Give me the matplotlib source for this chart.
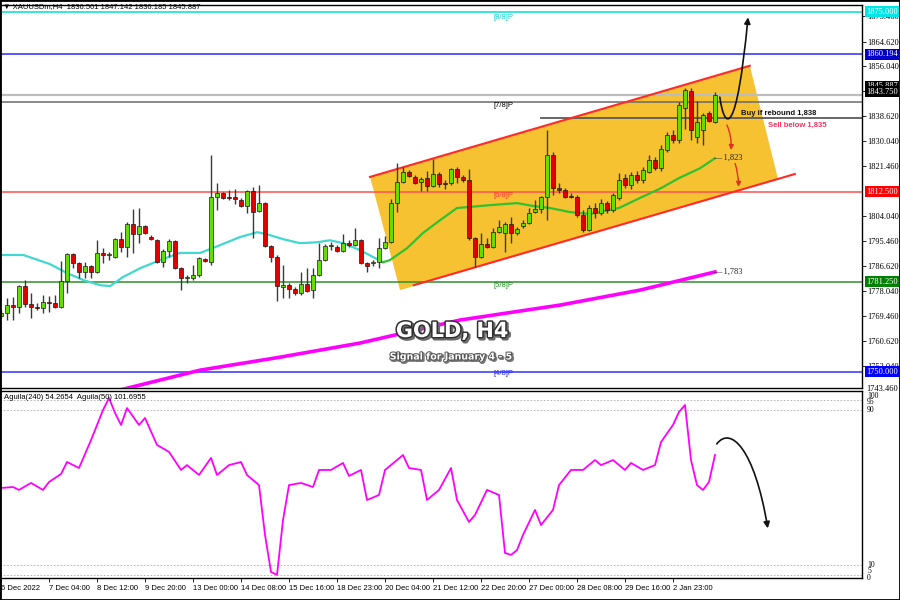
import matplotlib
matplotlib.use('Agg')
import matplotlib.pyplot as plt
import numpy as np
from matplotlib.path import Path
from matplotlib.patches import FancyArrowPatch, Polygon, Rectangle
import matplotlib.patheffects as pe
import matplotlib.transforms as mtransforms

plt.rcParams['font.family'] = ['Liberation Sans', 'DejaVu Sans']

# ---------------- data ----------------
opens = [1769.2, 1770.3, 1773.1, 1772.4, 1779.7, 1773.4, 1772.4, 1772.0, 1774.1, 1773.8,
         1772.4, 1781.4, 1790.8, 1787.7, 1784.6, 1786.6, 1784.6, 1791.2, 1790.5, 1789.8,
         1796.0, 1793.2, 1801.2, 1797.7, 1800.5, 1796.7, 1795.6, 1788.0, 1791.8, 1795.3,
         1785.9, 1782.5, 1782.5, 1783.5, 1789.1, 1788.0, 1810.6, 1812.0, 1810.6, 1810.6,
         1809.6, 1807.5, 1812.7, 1805.8, 1808.5, 1793.6, 1789.8, 1779.3, 1780.0, 1778.6,
         1777.2, 1780.4, 1778.3, 1783.5, 1788.7, 1793.6, 1793.2, 1791.8, 1794.6, 1793.9,
         1795.6, 1787.7, 1787.7, 1788.0, 1792.9, 1794.9, 1808.5, 1815.8, 1819.3, 1817.6,
         1815.8, 1817.2, 1814.4, 1818.6, 1815.5, 1815.5, 1820.3, 1817.6, 1816.5, 1796.3,
         1789.8, 1794.2, 1793.2, 1798.4, 1798.1, 1801.2, 1798.1, 1800.5, 1801.6, 1805.4,
         1806.4, 1810.6, 1825.2, 1813.7, 1813.0, 1811.0, 1810.6, 1804.4, 1799.1, 1806.8,
         1805.1, 1808.5, 1806.1, 1810.3, 1817.2, 1814.8, 1818.2, 1816.5, 1819.3, 1823.5,
         1820.6, 1826.9, 1832.1, 1830.4, 1841.5, 1847.5, 1831.4, 1833.9, 1839.8, 1836.5]
highs = [1771.4, 1775.5, 1775.9, 1780.0, 1781.8, 1777.2, 1773.8, 1776.6, 1776.2, 1776.6,
         1788.4, 1791.2, 1791.2, 1788.0, 1788.0, 1787.0, 1795.6, 1792.9, 1791.5, 1796.3,
         1798.4, 1801.9, 1806.4, 1806.8, 1800.9, 1797.3, 1796.0, 1792.5, 1796.0, 1795.6,
         1786.3, 1783.5, 1787.0, 1789.8, 1789.4, 1825.2, 1815.5, 1812.4, 1813.0, 1813.4,
         1810.3, 1813.0, 1814.1, 1814.8, 1808.9, 1793.9, 1790.5, 1787.0, 1780.7, 1779.3,
         1784.6, 1785.9, 1785.9, 1794.6, 1794.2, 1794.9, 1793.9, 1797.7, 1795.6, 1799.8,
         1796.0, 1788.0, 1788.7, 1796.3, 1797.0, 1809.9, 1822.4, 1821.0, 1820.0, 1818.2,
         1817.6, 1819.6, 1823.8, 1819.3, 1816.5, 1820.6, 1821.0, 1818.2, 1820.3, 1796.7,
         1798.1, 1796.3, 1799.8, 1802.6, 1801.9, 1803.7, 1800.2, 1802.6, 1806.8, 1809.6,
         1811.0, 1833.9, 1826.2, 1815.5, 1813.7, 1812.0, 1811.3, 1806.1, 1807.8, 1808.5,
         1809.9, 1809.2, 1812.0, 1818.9, 1818.6, 1819.3, 1819.6, 1821.0, 1825.2, 1824.5,
         1828.6, 1833.2, 1833.9, 1843.5, 1848.5, 1848.5, 1843.9, 1839.8, 1840.5, 1847.1]
lows = [1768.5, 1767.8, 1767.8, 1770.3, 1772.4, 1768.5, 1771.4, 1770.3, 1770.6, 1772.0,
        1772.0, 1777.2, 1785.9, 1782.5, 1782.5, 1782.5, 1784.2, 1787.7, 1788.7, 1789.4,
        1791.5, 1789.8, 1791.2, 1794.6, 1797.7, 1795.6, 1787.7, 1786.3, 1789.8, 1785.6,
        1778.3, 1780.7, 1781.8, 1782.8, 1788.0, 1787.0, 1806.1, 1809.9, 1809.6, 1808.2,
        1807.1, 1805.1, 1796.3, 1805.4, 1793.2, 1788.0, 1774.5, 1775.5, 1775.5, 1776.6,
        1776.6, 1777.6, 1775.5, 1783.2, 1788.4, 1792.2, 1791.5, 1791.5, 1793.2, 1793.6,
        1787.3, 1784.6, 1786.6, 1785.9, 1792.5, 1794.6, 1805.4, 1815.5, 1817.6, 1815.1,
        1812.7, 1812.7, 1814.1, 1814.1, 1813.4, 1814.8, 1815.5, 1815.8, 1795.6, 1786.3,
        1789.4, 1792.9, 1792.9, 1798.1, 1791.5, 1794.6, 1797.3, 1799.8, 1801.2, 1805.1,
        1805.1, 1802.6, 1811.3, 1812.0, 1810.3, 1810.3, 1803.7, 1798.4, 1798.8, 1803.3,
        1804.4, 1805.1, 1805.4, 1809.6, 1813.7, 1813.4, 1815.5, 1815.5, 1818.9, 1820.0,
        1819.6, 1826.2, 1829.3, 1829.3, 1834.2, 1830.4, 1829.3, 1828.6, 1836.7, 1836.2]
closes = [1770.3, 1773.1, 1772.4, 1779.7, 1773.4, 1772.4, 1772.0, 1774.1, 1773.8, 1772.4,
          1781.4, 1790.8, 1787.7, 1784.6, 1786.6, 1784.6, 1791.2, 1790.5, 1790.8, 1796.0,
          1793.2, 1801.2, 1797.7, 1800.5, 1798.1, 1796.0, 1788.0, 1791.8, 1795.3, 1785.9,
          1782.5, 1782.8, 1783.5, 1789.4, 1788.4, 1810.6, 1812.0, 1810.3, 1810.3, 1809.9,
          1807.5, 1812.7, 1805.4, 1808.5, 1793.6, 1789.8, 1779.7, 1780.0, 1778.6, 1777.2,
          1780.4, 1777.9, 1783.5, 1788.7, 1793.6, 1793.9, 1791.8, 1794.6, 1793.9, 1795.6,
          1787.7, 1786.6, 1788.0, 1792.9, 1794.9, 1808.5, 1815.8, 1819.3, 1817.9, 1815.5,
          1816.9, 1814.4, 1818.6, 1815.1, 1815.3, 1820.3, 1817.6, 1816.5, 1796.3, 1789.8,
          1794.2, 1793.2, 1798.4, 1800.2, 1801.2, 1798.1, 1799.5, 1801.6, 1805.1, 1806.4,
          1810.6, 1825.2, 1813.7, 1813.0, 1810.6, 1810.6, 1804.4, 1799.1, 1806.8, 1805.1,
          1808.5, 1806.1, 1811.3, 1816.5, 1814.8, 1818.2, 1816.5, 1820.0, 1823.5, 1820.6,
          1827.3, 1832.1, 1830.4, 1842.5, 1847.8, 1833.9, 1836.7, 1839.1, 1837.0, 1845.9]

ma_cyan_x = [0, 3.7, 8.2, 11, 13.7, 16.5, 18.2, 20.3, 23.2, 26.5, 29.8, 33.2, 36.5, 39.8,
             42.7, 44.3, 47, 49.8, 52.7, 54.8, 57, 59.8, 62, 63.7]
ma_cyan_y = [1790.5, 1790.5, 1787.3, 1784.2, 1781.8, 1780.0, 1779.7, 1782.8, 1785.9, 1788.7,
             1791.2, 1791.2, 1793.9, 1796.7, 1798.4, 1797.7, 1796.0, 1794.6, 1794.9, 1795.6,
             1794.6, 1792.2, 1789.8, 1788.0]
ma_green_x = [63.7, 64.8, 67.7, 70.3, 73.2, 76, 77.7, 81.5, 86, 88.7, 91.5, 94.8, 98.2,
              103, 106.5, 110, 113, 116.5, 119]
ma_green_y = [1788.0, 1788.7, 1792.9, 1798.1, 1802.6, 1806.8, 1807.1, 1807.8, 1808.5, 1807.5,
              1806.8, 1805.4, 1804.7, 1806.8, 1810.3, 1813.7, 1817.2, 1820.6, 1824.1]
ma200_x = [10, 19.8, 33.2, 46.5, 59.8, 76.5, 93.2, 106.5, 119]
ma200_y = [1740.0, 1743.6, 1750.5, 1755.0, 1759.9, 1767.9, 1773.1, 1778.3, 1784.6]

osc_x = [0, 2, 3, 5, 7, 8, 10, 11, 13, 15, 17, 18, 19, 20, 21, 23, 24, 26, 28, 30, 31, 33,
         35, 36, 38, 40, 41, 43, 44, 45, 46, 47, 48, 50, 52, 53, 55, 57, 58, 60, 61, 63, 64,
         66, 67, 68, 70, 71, 73, 75, 76, 78, 79, 81, 83, 84, 85, 86, 87, 89, 90, 92, 93, 95,
         97, 99, 100, 102, 104, 105, 107, 109, 110, 112, 113, 114, 115, 116, 117, 118, 119]
osc_y = [49.8, 50.3, 48.8, 52.4, 48.8, 52.9, 57.0, 63.2, 60.1, 74.5, 90.0, 96.2, 88.5, 82.3,
         91.0, 82.3, 85.9, 72.0, 68.4, 59.1, 61.6, 56.5, 65.3, 56.5, 61.6, 63.2, 56.5, 51.3,
         25.6, 6.5, 5.0, 33.3, 51.3, 52.4, 50.3, 59.1, 59.1, 62.7, 56.0, 59.1, 43.6, 46.2,
         59.1, 64.2, 66.8, 60.1, 59.1, 43.6, 48.8, 60.1, 43.6, 32.3, 35.9, 48.8, 46.2, 16.3,
         15.3, 17.8, 25.6, 38.5, 30.7, 38.5, 51.3, 59.1, 59.1, 64.2, 61.6, 64.2, 59.1, 62.7,
         59.1, 61.6, 73.5, 82.3, 89.0, 92.6, 64.2, 51.3, 48.8, 52.9, 66.8]

price_ticks = [1873.46, 1864.62, 1856.04, 1847.46, 1838.62, 1830.04, 1821.46, 1804.04,
               1795.46, 1786.62, 1778.04, 1769.46, 1760.62, 1752.04]
x_tick_pos = [0, 8, 16, 24, 32, 40, 48, 56, 64, 72, 80, 88, 96, 104, 112]
x_tick_labels = ['6 Dec 2022', '7 Dec 04:00', '8 Dec 12:00', '9 Dec 20:00', '13 Dec 00:00',
                 '14 Dec 08:00', '15 Dec 16:00', '18 Dec 23:00', '20 Dec 04:00', '21 Dec 12:00',
                 '22 Dec 20:00', '27 Dec 00:00', '28 Dec 08:00', '29 Dec 16:00', '2 Jan 23:00']

levels = [1875.0, 1860.194, 1845.887, 1843.750, 1812.5, 1781.25, 1750.0]
level_colors = ['#00dede', '#2a2aff', '#bdbdbd', '#6a6a6a', '#ff5050', '#2f8f2f', '#3030ff']
level_box = ['#00e6e6', '#0000c8', '#000000', '#000000', '#ff0000', '#008000', '#0000ff']
level_box_y = [1875.0, 1860.194, 1849.0, 1847.2, 1812.5, 1781.25, 1750.0]
murrey_labels = ['[8/8]P', '[7/8]P', '[6/8]P', '[5/8]P', '[4/8]P']
murrey_y = [1872.9, 1842.5, 1811.3, 1780.0, 1749.5]
murrey_colors = ['#00d0d0', '#000000', '#ff3030', '#1a8c1a', '#2020ff']
buy_level = 1838.0

# ---------------- figure ----------------
fig = plt.figure(figsize=(9, 6), dpi=100)
ax = fig.add_axes([0.0, 1 - 388 / 600, 862 / 900, 383 / 600])
ax2 = fig.add_axes([0.0, 1 - 578 / 600, 862 / 900, 187 / 600])

ax.set_xlim(-0.17, 143.5)
ax.set_ylim(1744.3, 1877.3)
ax2.set_xlim(-0.17, 143.5)
ax2.set_ylim(3.4, 99.8)

for a in (ax, ax2):
    for s in a.spines.values():
        s.set_color('black')
        s.set_linewidth(1.0)

# channel
poly = Polygon([(61.5, 1817.6), (124.8, 1856.2), (129.5, 1816.9), (66.5, 1778.3)],
               closed=True, facecolor='#f7c232', edgecolor='none', zorder=1)
ax.add_patch(poly)
ax.plot([61.5, 124.8], [1817.6, 1856.2], color='#ff2a2a', lw=1.5, zorder=5)
ax.plot([68.8, 132.3], [1780.0, 1818.6], color='#ff2a2a', lw=1.5, zorder=5)

# horizontal levels
for lv, c in zip(levels, level_colors):
    ax.axhline(lv, color=c, lw=1.1 if c != '#bdbdbd' else 1.6, zorder=2)
ax.plot([90, 143.5], [buy_level, buy_level], color='#5a5a5a', lw=1.3, zorder=2)

# moving averages
ax.plot(ma_cyan_x, ma_cyan_y, color='#40d8d0', lw=1.6, zorder=3)
ax.plot(ma_green_x, ma_green_y, color='#30c030', lw=1.6, zorder=3)
ax.plot(ma200_x, ma200_y, color='#ff00ff', lw=2.6, zorder=3)

# candles
idx = np.arange(len(opens))
o = np.array(opens); h = np.array(highs); l = np.array(lows); c = np.array(closes)
up = c >= o
ax.vlines(idx, l, h, color='#3a3a3a', lw=1.0, zorder=6)
bottoms = np.minimum(o, c)
heights = np.maximum(np.abs(c - o), 0.35)
ax.bar(idx[up], heights[up], bottom=bottoms[up], width=0.7, color='#66dd00',
       edgecolor='#1a1a1a', linewidth=0.5, zorder=7)
ax.bar(idx[~up], heights[~up], bottom=bottoms[~up], width=0.7, color='#e00000',
       edgecolor='#1a1a1a', linewidth=0.5, zorder=7)

# murrey labels
for t, yv, col in zip(murrey_labels, murrey_y, murrey_colors):
    ax.text(82, yv, t, color=col, fontsize=5.5, va='center', ha='left', zorder=8)

# right axis
ax.yaxis.tick_right()
ax.set_yticks(price_ticks)
ax.set_yticklabels(['%.3f' % v for v in price_ticks], fontsize=6, family='Liberation Serif')
ax.tick_params(axis='y', length=3, pad=1, width=0.6)
ax.set_xticks([])
trans = mtransforms.blended_transform_factory(ax.transAxes, ax.transData)
ax.text(1.0046, 1743.9, '1743.460', transform=trans, fontsize=6, family='Liberation Serif',
        va='center', ha='left', clip_on=False)
for yv, lv, bc in zip(level_box_y, levels, level_box):
    ax.text(1.005, yv, '%.3f' % lv, transform=trans, fontsize=6, family='Liberation Serif',
            color='white', va='center', ha='left', clip_on=False, zorder=10,
            bbox=dict(boxstyle='square,pad=0.15', fc=bc, ec='none'))

# annotations
ax.text(123.3, 1839.5, 'Buy if rebound 1,838', fontsize=5.5, fontweight='bold',
        color='#111111', va='center', ha='left', zorder=9)
ax.text(127.8, 1835.4, 'Sell below 1,835', fontsize=5.5, fontweight='bold',
        color='#ee3560', va='center', ha='left', zorder=9)
ax.text(118.6, 1824.3, '\u2014 1,823', fontsize=6, family='Liberation Serif',
        color='#222222', va='center', ha='left', zorder=9)
ax.text(118.6, 1784.6, '\u2014 1,783', fontsize=6, family='Liberation Serif',
        color='#222222', va='center', ha='left', zorder=9)

# black curved arrow (up)
verts = [(119.8, 1845.3), (120.6, 1833.5), (122.6, 1831.0), (124.5, 1873.0)]
p = Path(verts, [Path.MOVETO, Path.CURVE4, Path.CURVE4, Path.CURVE4])
ax.add_patch(FancyArrowPatch(path=p, arrowstyle='-|>', mutation_scale=9,
                             color='#111111', lw=1.2, zorder=9))
# red arrows
ax.add_patch(FancyArrowPatch((120.8, 1836.5), (121.6, 1826.0), arrowstyle='-|>',
                             connectionstyle='arc3,rad=-0.15', mutation_scale=7,
                             color='#e03020', lw=1.0, zorder=9))
ax.add_patch(FancyArrowPatch((122.2, 1823.2), (122.9, 1813.2), arrowstyle='-|>',
                             connectionstyle='arc3,rad=-0.1', mutation_scale=7,
                             color='#e03020', lw=1.0, zorder=9))

# titles
shadow = [pe.withStroke(linewidth=2.5, foreground='#6a6a6a')]
main_fx = [pe.withStroke(linewidth=2.2, foreground='#303030')]
fig.text(452 / 900 + 0.002, 1 - 331 / 600 - 0.003, 'GOLD, H4', fontsize=15, fontweight='bold',
         family='DejaVu Sans', color='#7a7a7a', ha='center', va='center', path_effects=shadow)
fig.text(452 / 900, 1 - 331 / 600, 'GOLD, H4', fontsize=15, fontweight='bold',
         family='DejaVu Sans', color='white', ha='center', va='center', path_effects=main_fx)
fig.text(451 / 900 + 0.0015, 1 - 357 / 600 - 0.002, 'Signal for January 4 - 5', fontsize=6.8,
         fontweight='bold', family='DejaVu Sans', color='#7a7a7a', ha='center', va='center',
         path_effects=[pe.withStroke(linewidth=1.8, foreground='#7a7a7a')])
fig.text(451 / 900, 1 - 357 / 600, 'Signal for January 4 - 5', fontsize=6.8, fontweight='bold',
         family='DejaVu Sans', color='white', ha='center', va='center',
         path_effects=[pe.withStroke(linewidth=1.5, foreground='#555555')])

fig.text(3 / 900, 1 - 7 / 600, '\u25bc XAUUSDm,H4  1836.501 1847.142 1836.185 1845.887',
         fontsize=5.5, color='black', va='center', ha='left')

# ---------------- lower panel ----------------
for g in (95, 90, 10, 5):
    ax2.axhline(g, color='#b0b0b0', lw=0.6, ls=(0, (2, 2)), zorder=1)
ax2.plot(osc_x, osc_y, color='#ff00ff', lw=1.3, zorder=3)
ax2.text(0.005, 0.965, 'Aguila(240) 54.2654  Aguila(50) 101.6955', transform=ax2.transAxes,
         fontsize=5.5, va='center', ha='left')
verts2 = [(119.3, 72.5), (121.6, 82.0), (125.6, 70.0), (127.8, 29.0)]
p2 = Path(verts2, [Path.MOVETO, Path.CURVE4, Path.CURVE4, Path.CURVE4])
ax2.add_patch(FancyArrowPatch(path=p2, arrowstyle='-|>', mutation_scale=9,
                              color='#111111', lw=1.2, zorder=5))

ax2.set_yticks([])
trans2 = mtransforms.blended_transform_factory(ax2.transAxes, ax2.transData)
for lab, yv in [('100', 97.2), ('95', 94.2), ('90', 90.0), ('10', 10.1), ('5', 6.8), ('0', 3.4)]:
    ax2.text(1.006, yv, lab, transform=trans2, fontsize=5.5, family='Liberation Serif',
             va='center', ha='left', clip_on=False)

ax2.set_xticks(x_tick_pos)
ax2.set_xticklabels(x_tick_labels, fontsize=5.5, ha='left')
ax2.tick_params(axis='x', length=3, pad=2, width=0.6)

fig.patches.append(Rectangle((0, 0), 1, 1, transform=fig.transFigure, fill=False,
                             ec='black', lw=2))

fig.savefig('out.png', dpi=100)
